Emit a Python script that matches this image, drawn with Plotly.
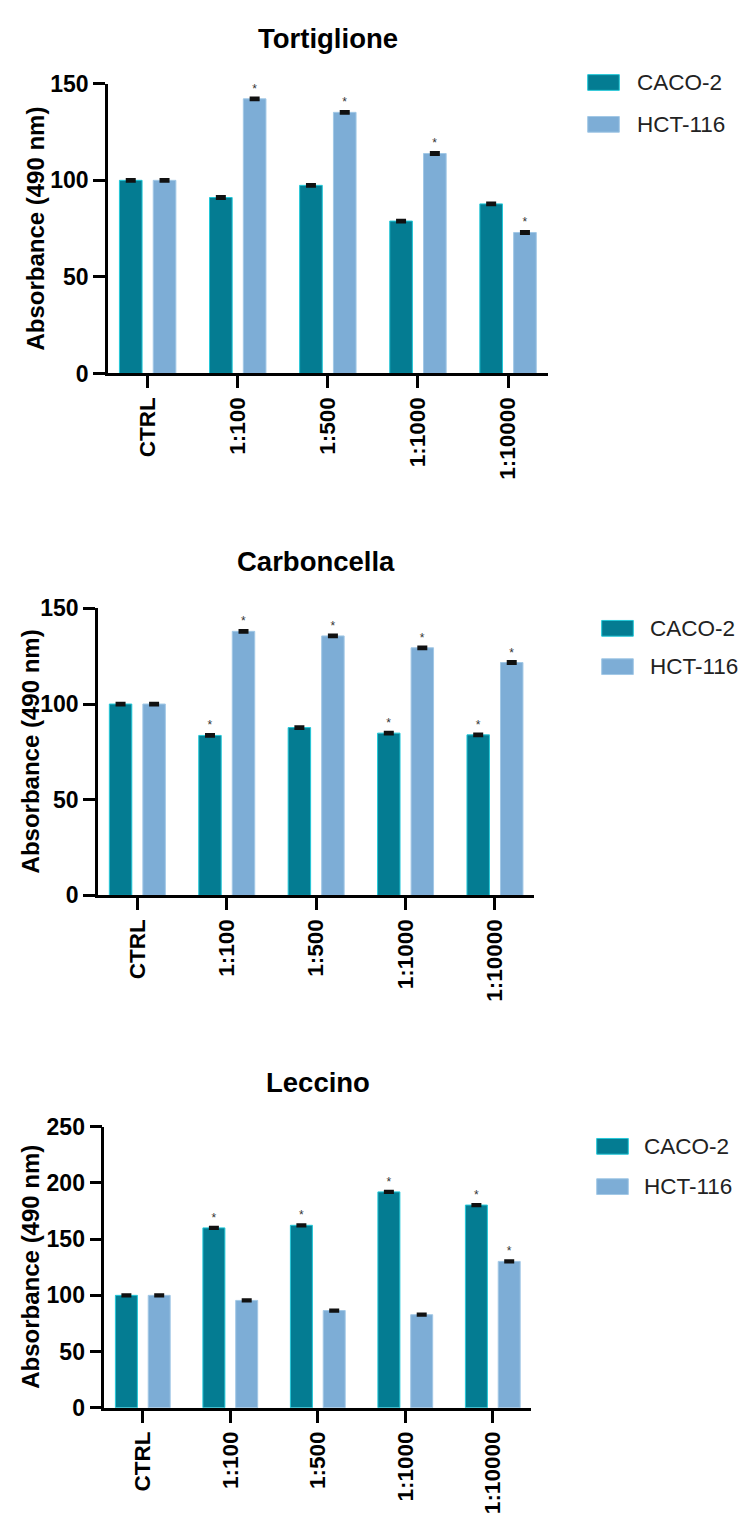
import plotly.graph_objects as go

# ---------------- data ----------------
categories = ["CTRL", "1:100", "1:500", "1:1000", "1:10000"]
series_names = ["CACO-2", "HCT-116"]
panel_titles = ["Tortiglione", "Carboncella", "Leccino"]

tortiglione_caco2 = [100.0, 91.1, 97.4, 78.9, 87.8]
tortiglione_hct116 = [100.0, 142.2, 135.2, 113.9, 73.0]
carboncella_caco2 = [100.0, 83.6, 87.7, 84.8, 83.9]
carboncella_hct116 = [100.0, 138.0, 135.6, 129.4, 121.7]
leccino_caco2 = [100.0, 160.0, 162.3, 192.0, 180.3]
leccino_hct116 = [100.0, 95.5, 86.5, 82.8, 130.2]

tortiglione_caco2_err = [0.6, 0.6, 0.6, 0.6, 0.6]
tortiglione_hct116_err = [0.6, 0.6, 0.6, 0.6, 0.6]
carboncella_caco2_err = [0.6, 0.6, 0.6, 0.6, 0.6]
carboncella_hct116_err = [0.6, 0.6, 0.6, 0.6, 0.6]
leccino_caco2_err = [0.8, 0.8, 0.8, 0.8, 0.8]
leccino_hct116_err = [0.8, 0.8, 0.8, 0.8, 0.8]

# significance (* vs CTRL)
tortiglione_caco2_sig = [False, False, False, False, False]
tortiglione_hct116_sig = [False, True, True, True, True]
carboncella_caco2_sig = [False, True, False, True, True]
carboncella_hct116_sig = [False, True, True, True, True]
leccino_caco2_sig = [False, True, True, True, True]
leccino_hct116_sig = [False, False, False, False, True]

y_max = [150, 150, 250]
y_dtick = 50

# ---------------- styling ----------------
W, H = 752, 1525
FONT = "Liberation Sans, Arial, sans-serif"
fill_colors = ["#047c92", "#7dadd6"]
edge_colors = ["#22c8d8", "#a2c8e6"]

# pixel geometry of each panel: (left, right, top, bottom)
panel_px = [
    (108.0, 547.7, 72.0, 366.7),
    (98.0, 534.3, 605.7, 897.7),
    (104.3, 531.3, 1133.0, 1419.0),
]
title_y_px = [25.5, 558.0, 1088.0]
ytitle_x_px = [36.0, 30.5, 30.5]
legend_px = [  # swatch left, text left, row1 y, row2 y
    (587.7, 634.5, 70.7, 113.3),
    (601.7, 648.0, 626.0, 665.0),
    (596.7, 642.0, 1153.0, 1194.0),
]


def px(x):
    return x / W


def py(y):
    return 1 - y / H


panels = [
    (tortiglione_caco2, tortiglione_hct116, tortiglione_caco2_err, tortiglione_hct116_err,
     tortiglione_caco2_sig, tortiglione_hct116_sig),
    (carboncella_caco2, carboncella_hct116, carboncella_caco2_err, carboncella_hct116_err,
     carboncella_caco2_sig, carboncella_hct116_sig),
    (leccino_caco2, leccino_hct116, leccino_caco2_err, leccino_hct116_err,
     leccino_caco2_sig, leccino_hct116_sig),
]

fig = go.Figure()
layout = dict(
    width=W, height=H,
    margin=dict(l=0, r=0, t=0, b=0),
    paper_bgcolor="white", plot_bgcolor="white",
    barmode="group", bargap=0.25, bargroupgap=0.33,
    showlegend=False,
    font=dict(family=FONT, color="black"),
)
annotations = []
shapes = []

for i, (c, h, ce, he, cs, hs) in enumerate(panels):
    n = "" if i == 0 else str(i + 1)
    xa, ya = "x" + n, "y" + n
    vals = [c, h]
    errs = [ce, he]
    sigs = [cs, hs]
    for s in range(2):
        fig.add_trace(go.Bar(
            x=categories, y=vals[s], name=series_names[s],
            xaxis=xa, yaxis=ya,
            marker=dict(color=fill_colors[s], line=dict(color=edge_colors[s], width=1)),
            error_y=dict(type="data", array=errs[s], visible=True,
                         color="#111111", thickness=2.5, width=5),
            text=["*" if v else "" for v in sigs[s]],
            textposition="outside",
            outsidetextfont=dict(family=FONT, size=12, color="#333333"),
            cliponaxis=False,
            hoverinfo="x+y",
        ))
    L, R, T, B = panel_px[i]
    layout["xaxis" + n] = dict(
        domain=[px(L), px(R)], anchor=ya,
        range=[-0.44, len(categories) - 1 + 0.44],
        type="category",
        showline=True, linecolor="black", linewidth=2.5,
        ticks="outside", ticklen=12, tickwidth=2.5, tickcolor="black",
        tickangle=-90,
        tickfont=dict(family=FONT, size=22.5, color="black", weight="bold"),
        showgrid=False, zeroline=False, fixedrange=True,
    )
    layout["yaxis" + n] = dict(
        domain=[py(B), py(T)], anchor=xa,
        range=[0, y_max[i]], dtick=y_dtick, tick0=0,
        showline=True, linecolor="black", linewidth=2.5,
        ticks="outside", ticklen=12, tickwidth=2.5, tickcolor="black",
        tickfont=dict(family=FONT, size=23, color="black", weight="bold"),
        showgrid=False, zeroline=False, fixedrange=True,
    )
    # panel title
    annotations.append(dict(
        text=panel_titles[i], xref="paper", yref="paper",
        x=px((L + R) / 2), y=py(title_y_px[i]), xanchor="center", yanchor="middle",
        showarrow=False, font=dict(family=FONT, size=27.5, color="black", weight="bold"),
    ))
    # y axis title
    annotations.append(dict(
        text="Absorbance (490 nm)", xref="paper", yref="paper",
        x=px(ytitle_x_px[i]), y=py((T + B) / 2), xanchor="center", yanchor="middle",
        textangle=-90, showarrow=False,
        font=dict(family=FONT, size=24, color="black", weight="bold"),
    ))
    # legend
    sx, tx, r1, r2 = legend_px[i]
    for s, ry in enumerate([r1, r2]):
        shapes.append(dict(
            type="rect", xref="paper", yref="paper",
            x0=px(sx), x1=px(sx + 31.6), y0=py(ry + 8), y1=py(ry - 8),
            fillcolor=fill_colors[s], line=dict(color=edge_colors[s], width=1),
        ))
        annotations.append(dict(
            text=series_names[s], xref="paper", yref="paper",
            x=px(tx), y=py(ry), xanchor="left", yanchor="middle",
            showarrow=False, font=dict(family=FONT, size=22.5, color="#222222"),
        ))

layout["annotations"] = annotations
layout["shapes"] = shapes
fig.update_layout(**layout)

# remove the default page margin so the figure sits at the window origin
page_fix = (
    "document.body.style.margin='0';"
    "document.body.style.padding='0';"
    "document.documentElement.style.overflow='hidden';"
)
fig.write_html("out.html", post_script=page_fix, config={"displayModeBar": False})
